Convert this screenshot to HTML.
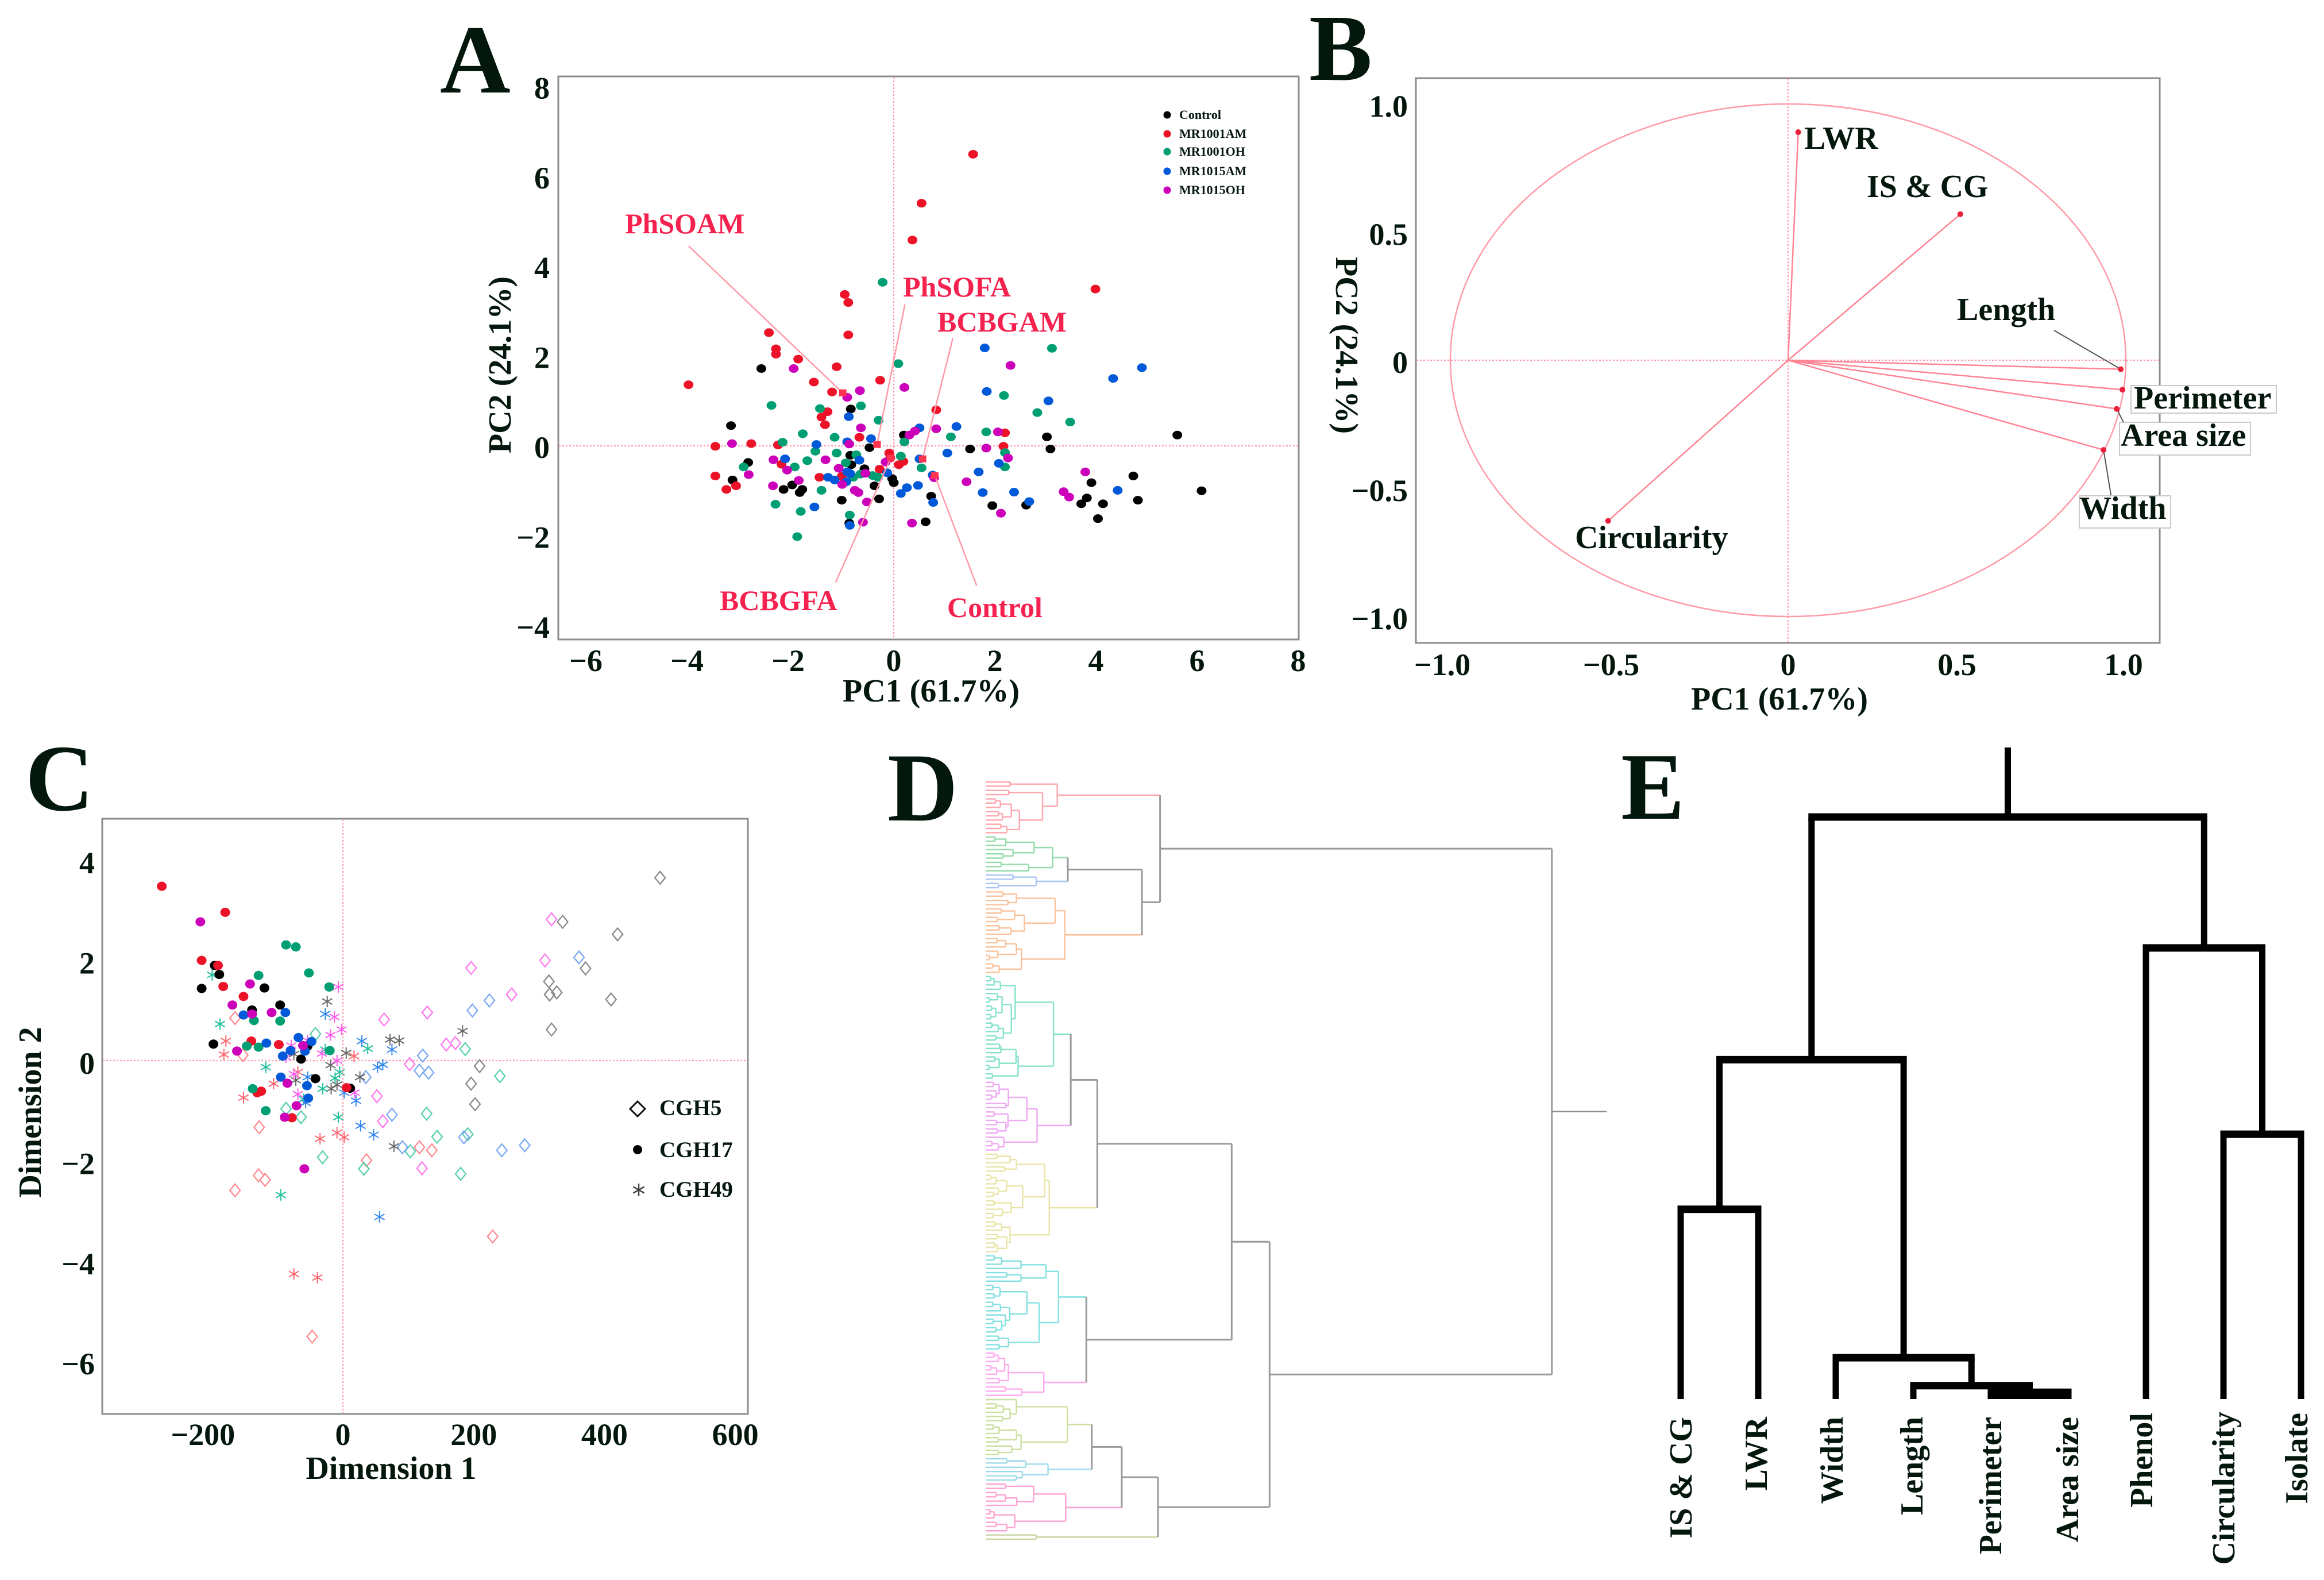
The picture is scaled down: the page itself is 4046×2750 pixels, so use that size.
<!DOCTYPE html>
<html lang="en">
<head>
<meta charset="utf-8">
<title>PCA and cluster analysis figure</title>
<style>
html,body{margin:0;padding:0;background:#fff;}
svg{display:block;}
text{font-family:"Liberation Serif",serif;font-weight:bold;fill:#04170c;}
.red{fill:#f5224f;}
</style>
</head>
<body>
<svg id="fig" xmlns="http://www.w3.org/2000/svg" width="4046" height="2750" viewBox="0 0 4046 2750">
<rect width="4046" height="2750" fill="#fff"/>

<g id="panelA">
  <text x="766" y="161" font-size="170">A</text>
  <rect x="972" y="133" width="1289" height="980" fill="none" stroke="#8c8c8c" stroke-width="3"/>
  <text x="1621" y="1221" font-size="56" text-anchor="middle">PC1 (61.7%)</text>
  <text transform="translate(889,635) rotate(-90)" font-size="56" text-anchor="middle">PC2 (24.1%)</text>
</g>
<g id="panelB">
  <text x="2279" y="139" font-size="165">B</text>
  <rect x="2465" y="136" width="1295" height="983" fill="none" stroke="#8c8c8c" stroke-width="3"/>
  <text x="3098" y="1235" font-size="56" text-anchor="middle">PC1 (61.7%)</text>
  <text transform="translate(2326,601) rotate(90)" font-size="56" text-anchor="middle">PC2 (24.1%)</text>
</g>
<g id="panelC">
  <text x="44" y="1410" font-size="165">C</text>
  <rect x="178" y="1425" width="1124" height="1036" fill="none" stroke="#8c8c8c" stroke-width="3"/>
  <text x="681" y="2574" font-size="56" text-anchor="middle">Dimension 1</text>
  <text transform="translate(71,1936) rotate(-90)" font-size="56" text-anchor="middle">Dimension 2</text>
</g>
<g id="panelD">
  <text x="1545" y="1428" font-size="170">D</text>
</g>
<g id="panelE">
  <text x="2822" y="1425" font-size="166">E</text>
  <g font-size="56" text-anchor="end">
    <text transform="translate(2945,2466) rotate(-90)">IS &amp; CG</text>
    <text transform="translate(3076,2466) rotate(-90)">LWR</text>
    <text transform="translate(3208,2466) rotate(-90)">Width</text>
    <text transform="translate(3347,2466) rotate(-90)">Length</text>
    <text transform="translate(3484,2466) rotate(-90)">Perimeter</text>
    <text transform="translate(3618,2466) rotate(-90)">Area size</text>
    <text transform="translate(3747,2459) rotate(-90)">Phenol</text>
    <text transform="translate(3890,2457) rotate(-90)">Circularity</text>
    <text transform="translate(4017,2459) rotate(-90)">Isolate</text>
  </g>
</g>
</svg>

<script>
// ---------- Panel A data: PC scores ----------
const aControl=[[-2.62,1.72],[-0.85,0.82],[-3.22,0.45],[0.20,0.24],[-0.48,-0.04],[-2.88,-0.37],[-3.19,-0.76],[-0.86,-0.21],[-0.84,-0.42],[-0.58,-0.51],[-0.03,-0.73],[0,-0.82],[-2.18,-0.97],[-2.01,-0.87],[-1.86,-1.04],[-1.81,-0.97],[-0.38,-0.89],[-1.03,-1.21],[-0.29,-1.18],[0.74,-1.12],[-0.88,-1.72],[0.63,-1.69],[1.51,-0.07],[1.95,-1.33],[2.62,-1.32],[3.03,0.20],[3.10,-0.07],[5.61,0.24],[6.09,-1.00],[4.74,-0.67],[3.91,-0.82],[3.82,-1.16],[3.71,-1.29],[4.14,-1.29],[4.83,-1.21],[4.04,-1.62]];
const aMR1001AM=[[1.57,6.49],[0.55,5.40],[0.37,4.58],[3.99,3.49],[-0.97,3.37],[-0.90,3.19],[-0.90,2.47],[-2.47,2.52],[-2.33,2.16],[-2.33,2.04],[-1.89,1.93],[-1.13,1.76],[-4.06,1.36],[-1.58,1.42],[-0.27,1.46],[-1.22,1.20],[-1.31,0.76],[-1.43,0.64],[-1.36,0.47],[0.84,0.80],[-0.68,0.19],[-3.53,-0.01],[-2.82,0.05],[-2.29,0.02],[-3.53,-0.67],[-3.12,-0.89],[-3.31,-0.97],[-2.22,-0.41],[-1.47,-0.70],[-1.03,-0.68],[-0.28,-0.52],[-0.09,-0.16],[-0.07,-0.27],[0.10,-0.42],[0.19,-0.35],[2.20,0.29],[2.17,-0.01]];
const aMR1001OH=[[-0.22,3.64],[3.13,2.17],[0.09,1.83],[2.18,1.12],[2.84,0.74],[3.49,0.53],[-2.42,0.90],[-1.46,0.83],[-0.65,0.89],[-0.30,0.57],[-1.80,0.27],[-2.20,0.08],[-1.17,0.19],[-1.55,-0.12],[0.21,0.09],[1.13,0.20],[1.83,0.31],[-1.13,-0.16],[-1.71,-0.33],[-1.96,-0.47],[-2.97,-0.47],[0.14,-0.23],[0.55,-0.49],[2.20,-0.15],[2.20,-0.47],[-0.74,-0.20],[-0.95,-0.38],[-1.43,-0.99],[-0.80,-0.70],[-0.66,-0.63],[-0.42,-0.66],[-0.31,-0.70],[-2.34,-1.30],[-1.84,-1.46],[-0.87,-1.54],[-1.91,-2.02]];
const aMR1015AM=[[1.80,2.18],[4.91,1.74],[4.34,1.50],[1.84,1.21],[3.06,1.00],[-0.89,0.65],[0.51,0.40],[1.24,0.43],[-0.45,0.16],[-0.92,0.09],[-1.53,0.03],[-2.15,-0.29],[-0.68,-0.32],[0.51,-0.29],[1.06,-0.16],[2.08,-0.39],[1.68,-0.58],[-0.92,-0.58],[-1.30,-0.70],[-1.17,-0.76],[-0.94,-0.80],[-0.86,-0.62],[-0.13,-0.60],[0.77,-0.65],[0.48,-0.88],[0.26,-0.93],[0.14,-1.06],[1.76,-1.04],[2.38,-1.03],[4.43,-0.99],[0.78,-1.26],[2.68,-1.24],[-1.57,-1.36],[-0.87,-1.77]];
const aMR1015OH=[[-1.98,1.72],[2.31,1.79],[-0.67,1.23],[0.21,1.30],[-0.92,1.08],[-0.65,0.40],[0.84,0.38],[0.31,0.24],[0.42,0.33],[2.06,0.31],[-3.20,0.05],[-0.88,0.04],[1.83,-0.05],[-2.38,-0.31],[-1.35,-0.31],[-0.16,-0.36],[-2.11,-0.54],[-1.09,-0.50],[-2.87,-0.64],[-0.56,-0.61],[2.26,-0.27],[3.79,-0.58],[-1.88,-0.77],[-2.39,-0.89],[-1.02,-0.86],[-0.77,-0.99],[-0.70,-1.04],[0.80,-0.71],[1.44,-0.80],[3.36,-1.02],[3.47,-1.14],[-0.53,-1.25],[-0.61,-1.70],[0.36,-1.72],[2.12,-1.50]];
const aSeriesNames=["Control","MR1001AM","MR1001OH","MR1015AM","MR1015OH"];
const aXTicks=[-6,-4,-2,0,2,4,6,8];
const aYTicks=[-4,-2,0,2,4,6,8];
const aLoadingNames=["PhSOAM","PhSOFA","BCBGAM","BCBGFA","Control"];
const aLoadingX=[-1.01,-0.33,0.57,-0.06,0.81];
const aLoadingY=[1.18,0.03,-0.29,-0.27,-0.66];
const aLeaderX=[-4.06,0.22,1.17,-1.15,1.64];
const aLeaderY=[4.45,3.15,2.40,-3.04,-3.11];

// ---------- Panel B data: variable loadings ----------
const bNames=["LWR","IS & CG","Length","Perimeter","Area size","Width","Circularity"];
const bPC1=[0.03,0.51,0.985,0.99,0.973,0.934,-0.533];
const bPC2=[0.89,0.57,-0.035,-0.115,-0.19,-0.35,-0.627];
const bTicks=[-1,-0.5,0,0.5,1];

// ---------- Panel C data: MDS coordinates ----------
const cDotRed=[[-277,3.48],[-180,2.96],[-216,2.00],[-191,1.90],[-183,1.48],[-152,1.28],[-140,0.39],[-98,0.32],[-125,-0.61],[-131,-0.64],[-78,-1.14],[5.5,-0.54]];
const cDotBlack=[[-196,1.90],[-189,1.72],[-216,1.44],[-120,1.45],[-139,1.01],[-96,1.11],[-198,0.33],[-54,0.29],[-64,0.03],[-42,-0.36],[11,-0.55]];
const cDotGreen=[[-87,2.31],[-72,2.27],[-52,1.75],[-129,1.70],[-21,1.47],[-136,0.80],[-96,0.79],[-147,0.29],[-129,0.27],[-20,0.20],[-138,-0.56],[-118,-1.00]];
const cDotBlue=[[-152,0.91],[-88,0.96],[-117,0.35],[-68,0.46],[-48,0.38],[-80,0.20],[-92,0.09],[-58,0.19],[-95,-0.33],[-55,-0.50],[-53,-0.75]];
const cDotMagenta=[[-218,2.77],[-142,1.53],[-169,1.11],[-139,0.93],[-109,0.96],[-162,0.19],[-61,0.30],[-85,-0.45],[-71,-0.90],[-89,-1.13],[-59,-2.16]];
const cDiamondBlack=[[485,3.65],[420,2.52],[336,2.77],[371,1.84],[315,1.58],[316,1.32],[327,1.36],[410,1.22],[319,0.62],[209,-0.11],[196,-0.46],[202,-0.87]];
const cDiamondRed=[[-165,0.85],[-153,0.11],[-128,-1.33],[-129,-2.29],[-119,-2.38],[-165,-2.59],[-47,-5.51],[36,-1.99],[117,-1.73],[136,-1.79],[229,-3.51]];
const cDiamondGreen=[[-42,0.53],[-87,-0.96],[-64,-1.13],[-31,-1.93],[32,-2.16],[103,-1.81],[128,-1.06],[144,-1.52],[191,-1.47],[180,-2.26],[187,0.23],[240,-0.31]];
const cDiamondBlue=[[35,-0.33],[75,-1.08],[91,-1.73],[122,0.10],[117,-0.20],[131,-0.24],[185,-1.53],[198,1.00],[224,1.20],[243,-1.79],[278,-1.69],[361,2.06]];
const cDiamondMagenta=[[63,0.82],[129,0.96],[196,1.85],[258,1.32],[309,2.00],[319,2.82],[52,-0.71],[61,-1.21],[102,-0.07],[158,0.32],[172,0.35],[121,-2.15]];
const cStarBlack=[[-24,1.18],[-75,0.13],[-19,-0.09],[5,0.15],[26,-0.33],[-72,-0.39],[-18,-0.56],[-9,-0.48],[72,0.42],[86,0.40],[183,0.59],[78,-1.71]];
const cStarRed=[[-179,0.39],[-182,0.12],[-152,-0.74],[-106,-0.46],[-69,-0.23],[17,0.09],[-35,-1.56],[-9,-1.44],[2,-1.53],[-75,-4.26],[-39,-4.33]];
const cStarGreen=[[-200,1.71],[-188,0.73],[-118,-0.13],[-27,0.22],[38,0.24],[-12,-0.35],[-5,-0.23],[-31,-0.56],[-60,-0.77],[-7,-1.13],[-95,-2.68]];
const cStarBlue=[[-27,0.93],[29,0.39],[75,0.22],[53,-0.13],[61,-0.08],[-54,-0.33],[2,-0.64],[20,-0.80],[-57,-0.84],[27,-1.30],[47,-1.48],[56,-3.12]];
const cStarMagenta=[[-7,1.47],[-13,0.87],[-2,0.62],[-19,0.51],[-32,0.14],[-9,0],[-79,0.30],[-87,0.07],[-54,0.40],[-75,-0.27],[-69,-0.67],[18,-0.64]];
const cXTicks=[-200,0,200,400,600];
const cYTicks=[-6,-4,-2,0,2,4];

// ---------- Panel D data: dendrogram clusters, [height, childA, childB], 0 = leaf ----------
const dRed=[170,[58,0,0],[135,[55,0,0],[80,[61,[35,[23,0,0],0],[40,[30,0,0],0]],[50,[36,0,0],0]]]];
const dGreen=[159,[115,[48,[22,0,0],0],[65,0,[42,0,0]]],[102,[37,0,0],0]];
const dBlue=[120,[65,0,0],[30,0,0]];
const dOrange=[188,[165,[73,[41,0,0],[53,0,0]],[92,[69,[37,0,0],[28,0,0]],[60,[32,0,0],0]]],[85,[73,[47,[27,0,0],0],[29,0,[9,0,0]]],[32,[17,0,0],0]]];
const dTeal=[161,[70,[35,[20,[12,0,0],0],0],[61,[39,[28,0,[9,0,0]],[24,[14,0,0],[12,0,0]]],[42,[30,[15,0,0],0],[24,0,0]]]],[77,[72,[36,[33,0,0],0],[32,[22,0,0],[8,0,0]]],[16,0,0]]];
const dViolet=[122,[98,[54,[32,[18,0,0],[25,0,[14,0,0]]],[48,0,0]],[53,[20,0,0],[48,[26,0,0],[28,0,0]]]],[43,0,[30,[15,0,0],0]]];
const dYellow=[151,[140,[73,[58,[27,0,0],0],[45,0,0]],[88,[50,[25,[12,0,0],0],[30,0,[18,0,0]]],[61,[20,0,0],[40,0,[18,0,0]]]]],[58,[38,[22,0,0],0],[50,[28,0,0],[28,[22,0,0],0]]]];
const dCyan=[173,[143,[84,[38,[20,0,0],0],0],[84,[50,0,0],0]],[127,[98,[34,[17,0,0],[20,0,0]],[57,[35,[17,0,0],0],[47,0,[38,[18,0,0],[25,0,0]]]]],[54,[30,0,0],[32,0,0]]]];
const dPink=[138,[54,[45,[30,[20,0,0],0],[26,[12,0,0],0]],[32,0,0]],[85,[47,0,0],0]];
const dOlive=[194,[73,0,[58,[42,[25,0,0],0],[40,0,0]]],[84,[73,[32,[18,0,0],0],[30,0,0]],[62,0,[30,0,0]]]];
const dSky=[148,[95,[50,0,0],0],[87,0,[73,0,0]]];
const dHotPink=[190,[114,[47,0,0],[74,[47,[25,0,0],0],0]],[69,[20,[10,0,0],0],[50,[25,0,0],0]]];
const dLast=[120,0,0];
const dClusters={red:dRed,green:dGreen,blue:dBlue,orange:dOrange,teal:dTeal,violet:dViolet,yellow:dYellow,cyan:dCyan,pink:dPink,olive:dOlive,sky:dSky,hotpink:dHotPink,last:dLast};
const dClusterColors={red:"#ffa6ae",green:"#94dcab",blue:"#a9c4f2",orange:"#f8c29d",teal:"#86e2cb",violet:"#eeaaf3",yellow:"#e9e4a6",cyan:"#86e0e0",pink:"#ffaaee",olive:"#cbdf9e",sky:"#9fdaea",hotpink:"#ffa2d2",last:"#ccd6a6"};
const dTop=[1344,[414,"red",[371,[195,"green","blue"],"orange"]],[674,[584,[265,[202,"teal","violet"],"yellow"],[239,"cyan","pink"]],[409,[323,[252,"olive","sky"],"hotpink"],"last"]]];

// ---------- Panel E data: variable clustering, height as % of root ----------
const eLeafNames=["IS & CG","LWR","Width","Length","Perimeter","Area size","Phenol","Circularity","Isolate"];
const eTree=[100,[58.3,[32.6,0,0],[7.1,0,[2.3,0,[0.9,0,0]]]],[77.5,0,[45.5,0,0]]];

// ---------- Helpers ----------
const NS="http://www.w3.org/2000/svg";
function make(tag,parent,name,attrs){
  const el=document.createElementNS(NS,tag);
  
  
  for(const k in attrs){el.setAttribute(k,attrs[k]);}
  parent.appendChild(el);
  return el;
}
function slug(s){return s.toLowerCase().replace(/[^a-z0-9]+/g,'-');}
function fmt(v){return (v<0?"\u2212":"")+Math.abs(v);}
function fmtB(v){return v===0?"0":(v<0?"\u2212":"")+Math.abs(v).toFixed(1);}
function tickText(parent,name,x,y,str,anchor){
  const t=make('text',parent,name,{x:x,y:y,'font-size':54,'text-anchor':anchor});
  t.textContent=str;
  return t;
}
function crossLines(parent,prefix,x1,x2,y1,y2,x0,y0){
  const st={stroke:'#ff9db0','stroke-width':2.2,'stroke-dasharray':'3 3',fill:'none'};
  make('line',parent,prefix+'-zero-line-horizontal',Object.assign({x1:x1,x2:x2,y1:y0,y2:y0},st));
  make('line',parent,prefix+'-zero-line-vertical',Object.assign({x1:x0,x2:x0,y1:y1,y2:y2},st));
}

// ---------- Panel A ----------
const xA=v=>1556+88*v;
const yA=v=>776-78.2*v;
const gA=document.getElementById('panelA');
crossLines(gA,'panel-a',973,2260,134,1112,xA(0),yA(0));
aXTicks.forEach(v=>{tickText(gA,'panel-a-x-tick-label',xA(v)-(v<0?8:0),1168,fmt(v),'middle');});
aYTicks.forEach(v=>{tickText(gA,'panel-a-y-tick-label',957,yA(v)+21,fmt(v),'end');});
const aColors=["#000000","#ec1228","#009e73","#0059d8","#cc00b8"];
[aControl,aMR1001AM,aMR1001OH,aMR1015AM,aMR1015OH].forEach((pts,i)=>{
  pts.forEach(p=>{
    make('ellipse',gA,'point-'+slug(aSeriesNames[i]),{cx:xA(p[0]),cy:yA(p[1]),rx:8.5,ry:7.5,fill:aColors[i]});
  });
});
aLoadingNames.forEach((n,i)=>{
  make('line',gA,'loading-line-'+slug(n),{x1:xA(aLeaderX[i]),y1:yA(aLeaderY[i]),x2:xA(aLoadingX[i]),y2:yA(aLoadingY[i]),stroke:'#ff9aa8','stroke-width':2.5});
  make('rect',gA,'loading-marker-'+slug(n),{x:xA(aLoadingX[i])-6.5,y:yA(aLoadingY[i])-6,width:13,height:12,fill:'#ff3350'});
});
[["PhSOAM",1088,406],["PhSOFA",1572,516],["BCBGAM",1632,577],["BCBGFA",1253,1062],["Control",1649,1074]].forEach(l=>{
  const t=make('text',gA,'loading-label-'+slug(l[0]),{x:l[1],y:l[2],'font-size':50,'class':'red'});
  t.textContent=l[0];
});
const aLegendY=[200,233,264,298,331];
aSeriesNames.forEach((n,i)=>{
  make('circle',gA,'legend-marker-'+slug(n),{cx:2032,cy:aLegendY[i],r:6.5,fill:aColors[i]});
  const t=make('text',gA,'legend-label-'+slug(n),{x:2053,y:aLegendY[i]+7,'font-size':22});
  t.textContent=n;
});

// ---------- Panel B ----------
const xB=v=>3113+588*v;
const yB=v=>627-446*v;
const gB=document.getElementById('panelB');
crossLines(gB,'panel-b',2466,3759,137,1118,xB(0),yB(0));
make('ellipse',gB,'correlation-circle',{cx:xB(0),cy:yB(0),rx:xB(1)-xB(0),ry:yB(0)-yB(1),fill:'none',stroke:'#ff9aa8','stroke-width':2.5});
bTicks.forEach(v=>{tickText(gB,'panel-b-x-tick-label',xB(v)-(v<0?14:0)-(v===1?4:0),1175,fmtB(v),'middle');});
bTicks.forEach(v=>{tickText(gB,'panel-b-y-tick-label',2451,yB(v)+22,fmtB(v),'end');});
bNames.forEach((n,i)=>{
  make('line',gB,'vector-'+slug(n),{x1:xB(0),y1:yB(0),x2:xB(bPC1[i]),y2:yB(bPC2[i]),stroke:'#ff8494','stroke-width':2.5});
});
make('line',gB,'leader-length',{x1:3576,y1:575,x2:xB(bPC1[2]),y2:yB(bPC2[2]),stroke:'#555','stroke-width':2});
make('line',gB,'leader-area-size',{x1:xB(bPC1[4]),y1:yB(bPC2[4]),x2:3697,y2:735,stroke:'#555','stroke-width':2});
make('line',gB,'leader-width',{x1:xB(bPC1[5]),y1:yB(bPC2[5]),x2:3676,y2:867,stroke:'#555','stroke-width':2});
bNames.forEach((n,i)=>{
  make('circle',gB,'vector-tip-'+slug(n),{cx:xB(bPC1[i]),cy:yB(bPC2[i]),r:5,fill:'#e8203a'});
});
[[3710,671,253,48,'perimeter'],[3690,735,228,57,'area-size'],[3620,863,159,56,'width']].forEach(b=>{
  make('rect',gB,'label-box-'+b[4],{x:b[0],y:b[1],width:b[2],height:b[3],fill:'#fff',stroke:'#c8c8c8','stroke-width':2});
});
[["LWR",3141,259],["IS & CG",3250,343],["Length",3407,557],["Perimeter",3715,711],["Area size",3692,776],["Width",3620,903],["Circularity",2742,954]].forEach(l=>{
  const t=make('text',gB,'variable-label-'+slug(l[0]),{x:l[1],y:l[2],'font-size':56});
  t.textContent=l[0];
});

// ---------- Panel C ----------
const xC=v=>597+1.1385*v;
const yC=v=>1846-87.2*v;
const gC=document.getElementById('panelC');
crossLines(gC,'panel-c',179,1301,1426,2460,xC(0),yC(0));
cXTicks.forEach(v=>{tickText(gC,'panel-c-x-tick-label',xC(v)-(v<0?16:0),2515,fmt(v),'middle');});
cYTicks.forEach(v=>{tickText(gC,'panel-c-y-tick-label',165,yC(v)+23,fmt(v),'end');});
function diamond(parent,name,cx,cy,color,w,hw,hh){
  make('path',parent,name,{d:`M${cx},${cy-hh}L${cx+hw},${cy}L${cx},${cy+hh}L${cx-hw},${cy}Z`,fill:'none',stroke:color,'stroke-width':w});
}
function star(parent,name,cx,cy,color,w,r){
  const dx=0.87*r,dy=0.5*r;
  make('path',parent,name,{d:`M${cx},${cy-r}V${cy+r}M${cx-dx},${cy-dy}L${cx+dx},${cy+dy}M${cx-dx},${cy+dy}L${cx+dx},${cy-dy}`,fill:'none',stroke:color,'stroke-width':w});
}
[[cDiamondBlack,'#8a8a8a','control'],[cDiamondRed,'#ff8c94','mr1001am'],[cDiamondGreen,'#5bd0b0','mr1001oh'],[cDiamondBlue,'#7baaf5','mr1015am'],[cDiamondMagenta,'#ff7cee','mr1015oh']].forEach(s=>{
  s[0].forEach(p=>{diamond(gC,'cgh5-point-'+s[2],xC(p[0]),yC(p[1]),s[1],2.3,9,11);});
});
[[cStarBlack,'#666666','control'],[cStarRed,'#ff6670','mr1001am'],[cStarGreen,'#22bf9c','mr1001oh'],[cStarBlue,'#3388ee','mr1015am'],[cStarMagenta,'#ff5cee','mr1015oh']].forEach(s=>{
  s[0].forEach(p=>{star(gC,'cgh49-point-'+s[2],xC(p[0]),yC(p[1]),s[1],2,10);});
});
[[cDotBlack,aColors[0],'control'],[cDotRed,aColors[1],'mr1001am'],[cDotGreen,aColors[2],'mr1001oh'],[cDotBlue,aColors[3],'mr1015am'],[cDotMagenta,aColors[4],'mr1015oh']].forEach(s=>{
  s[0].forEach(p=>{
    make('ellipse',gC,'cgh17-point-'+s[2],{cx:xC(p[0]),cy:yC(p[1]),rx:8.5,ry:8,fill:s[1]});
  });
});
diamond(gC,'legend-marker-cgh5',1110,1930,'#111',3,13,13);
make('circle',gC,'legend-marker-cgh17',{cx:1110,cy:2001,r:8,fill:'#000'});
star(gC,'legend-marker-cgh49',1112,2071,'#444',2.5,11);
[["CGH5",1941],["CGH17",2014],["CGH49",2083]].forEach(l=>{
  const t=make('text',gC,'legend-label-'+slug(l[0]),{x:1148,y:l[1],'font-size':39});
  t.textContent=l[0];
});

// ---------- Panel D ----------
const xD=h=>1716+0.7334*h;
const yD=i=>1361+7.363*i;
const gD=document.getElementById('panelD');
let dLeafIndex=0;
function dDrawCluster(node,color,width,label){
  if(node===0){
    const yLeaf=yD(dLeafIndex);
    dLeafIndex+=1;
    return {y:yLeaf,h:0,color:color};
  }
  let kids=[node[1],node[2]].map(ch=>{
    if(typeof ch==='string'){
      return dDrawCluster(dClusters[ch],dClusterColors[ch],2.4,ch);
    }
    return dDrawCluster(ch,color,width,label);
  });
  const x=xD(node[0]);
  kids.forEach(k=>{
    make('line',gD,'dendrogram-branch-'+label,{x1:xD(k.h),x2:x,y1:k.y,y2:k.y,stroke:k.color,'stroke-width':width===3?(k.color==='#9a9a9a'?3:2.6):2.4});
  });
  make('line',gD,'dendrogram-link-'+label,{x1:x,x2:x,y1:kids[0].y,y2:kids[1].y,stroke:color,'stroke-width':width});
  return {y:(kids[0].y+kids[1].y)/2,h:node[0],color:color};
}
const dRoot=dDrawCluster(dTop,'#9a9a9a',3,'upper');
make('line',gD,'dendrogram-root-stem',{x1:xD(dRoot.h),x2:2797,y1:dRoot.y,y2:dRoot.y,stroke:'#8f8f8f','stroke-width':2.5});

// ---------- Panel E ----------
const xE=i=>2926+135*i;
const yE=h=>2435-10.13*h;
const gE=document.getElementById('panelE');
let eLeafIndex=0;
function eDraw(node){
  if(node===0){
    const name=eLeafNames[eLeafIndex];
    const xLeaf=xE(eLeafIndex);
    eLeafIndex+=1;
    return {x:xLeaf,y:yE(0),name:slug(name)};
  }
  const kids=[eDraw(node[1]),eDraw(node[2])];
  const y=yE(node[0]);
  kids.forEach(k=>{
    make('line',gE,'cluster-stem-'+k.name,{x1:k.x,x2:k.x,y1:k.y,y2:y,stroke:'#000','stroke-width':11});
  });
  // the lowest merge sits flush with the leaf baseline, so its bar fills down to the leaves
  const barWidth=Math.max(13,node[0]<2?2*(yE(0)-y):13);
  make('line',gE,'cluster-bar',{x1:kids[0].x-5.5,x2:kids[1].x+5.5,y1:y,y2:y,stroke:'#000','stroke-width':barWidth});
  return {x:(kids[0].x+kids[1].x)/2,y:y,name:'node'};
}
const eRoot=eDraw(eTree);
make('line',gE,'cluster-root-stem',{x1:eRoot.x,x2:eRoot.x,y1:eRoot.y,y2:1301,stroke:'#000','stroke-width':11});
</script>
</body>
</html>
